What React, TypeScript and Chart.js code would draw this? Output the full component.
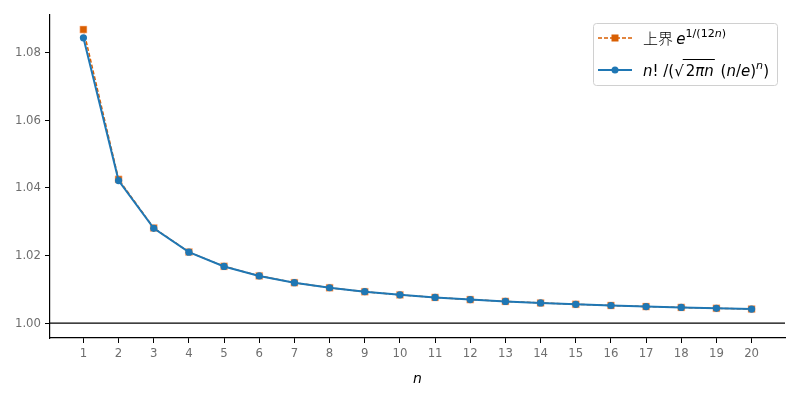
import { useEffect, useRef } from "react";
import { Chart, registerables, type Plugin } from "chart.js";

Chart.register(...registerables);

const N_VALUES = [1, 2, 3, 4, 5, 6, 7, 8, 9, 10, 11, 12, 13, 14, 15, 16, 17, 18, 19, 20];
// upper bound e^(1/(12n))
const UPPER = [
  1.08690, 1.04255, 1.02817, 1.02105, 1.01681, 1.01399, 1.01198, 1.01047, 1.00930, 1.00837,
  1.00760, 1.00697, 1.00643, 1.00597, 1.00557, 1.00522, 1.00491, 1.00464, 1.00439, 1.00417,
];
// n! / (sqrt(2πn) (n/e)^n)
const RATIO = [
  1.08444, 1.04220, 1.02806, 1.02101, 1.01678, 1.01397, 1.01197, 1.01047, 1.00930, 1.00837,
  1.00760, 1.00697, 1.00643, 1.00597, 1.00557, 1.00522, 1.00491, 1.00464, 1.00439, 1.00417,
];
const Y_TICKS = [1.0, 1.02, 1.04, 1.06, 1.08];

const ORANGE = "#d95f02";
const BLUE = "#1f77b4";
const TICK_FONT = "'DejaVu Sans Condensed', 'DejaVu Sans', sans-serif";
const CJK_FONT = "'Noto Sans CJK JP', sans-serif";
const MATH_FONT = "'DejaVu Sans', sans-serif";

type Seg = { t: string; it?: boolean; sup?: boolean; cjk?: boolean };

function drawSegs(ctx: CanvasRenderingContext2D, segs: Seg[], x: number, y: number, size: number) {
  let cx = x;
  for (const s of segs) {
    const sz = s.sup ? size * 0.74 : size;
    const fam = s.cjk ? CJK_FONT : MATH_FONT;
    ctx.font = `${s.it ? "italic " : ""}${s.cjk ? "300 " : ""}${sz}px ${fam}`;
    ctx.fillText(s.t, cx, s.sup ? y - size * 0.5 : y);
    cx += ctx.measureText(s.t).width;
  }
  return cx;
}

// y = 1 reference line across the axes
const refLine: Plugin<"line"> = {
  id: "refLine",
  beforeDatasetsDraw(chart) {
    const { ctx, chartArea, scales } = chart;
    const y = scales.y.getPixelForValue(1);
    ctx.save();
    ctx.strokeStyle = "#000";
    ctx.lineWidth = 1.2;
    ctx.beginPath();
    ctx.moveTo(chartArea.left, y);
    ctx.lineTo(chartArea.right, y);
    ctx.stroke();
    ctx.restore();
  },
};

// legend with math-style labels
const mathLegend: Plugin<"line"> = {
  id: "mathLegend",
  afterDraw(chart) {
    const { ctx, chartArea } = chart;
    const w = 184, h = 62;
    const bx = chartArea.right - 8 - w;
    const by = chartArea.top + 8;
    ctx.save();
    ctx.fillStyle = "rgba(255,255,255,0.85)";
    ctx.strokeStyle = "#d0d0d0";
    ctx.lineWidth = 1;
    ctx.beginPath();
    ctx.roundRect(bx + 0.5, by + 0.5, w, h, 3);
    ctx.fill();
    ctx.stroke();

    const lx0 = bx + 5, lx1 = bx + 39, mx = bx + 22;
    const r1 = by + 15, r2 = by + 47;

    ctx.strokeStyle = ORANGE;
    ctx.lineWidth = 1.5;
    ctx.setLineDash([4, 2]);
    ctx.beginPath();
    ctx.moveTo(lx0, r1);
    ctx.lineTo(lx1, r1);
    ctx.stroke();
    ctx.setLineDash([]);
    ctx.fillStyle = ORANGE;
    ctx.fillRect(mx - 3.5, r1 - 3.5, 7, 7);

    ctx.strokeStyle = BLUE;
    ctx.lineWidth = 2;
    ctx.beginPath();
    ctx.moveTo(lx0, r2);
    ctx.lineTo(lx1, r2);
    ctx.stroke();
    ctx.fillStyle = BLUE;
    ctx.beginPath();
    ctx.arc(mx, r2, 3.5, 0, Math.PI * 2);
    ctx.fill();

    ctx.fillStyle = "#000";
    ctx.textBaseline = "alphabetic";
    const tx = bx + 50;
    drawSegs(ctx, [
      { t: "上界 ", cjk: true }, { t: "e", it: true },
      { t: "1/(12", sup: true }, { t: "n", sup: true, it: true }, { t: ")", sup: true },
    ], tx, r1 + 6, 15);

    let x = drawSegs(ctx, [{ t: "n", it: true }, { t: "! /(√" }], tx, r2 + 6, 15);
    x += 2;
    const ox = x;
    x = drawSegs(ctx, [{ t: "2" }, { t: "πn", it: true }], x, r2 + 6, 15);
    ctx.strokeStyle = "#000";
    ctx.lineWidth = 1;
    ctx.beginPath();
    ctx.moveTo(ox - 3, r2 - 10.5);
    ctx.lineTo(x + 1, r2 - 10.5);
    ctx.stroke();
    drawSegs(ctx, [
      { t: " (" }, { t: "n", it: true }, { t: "/" }, { t: "e", it: true }, { t: ")" },
      { t: "n", it: true, sup: true }, { t: ")" },
    ], x + 2, r2 + 6, 15);
    ctx.restore();
  },
};

export default function App() {
  const canvasRef = useRef<HTMLCanvasElement>(null);

  useEffect(() => {
    document.body.style.margin = "0";
    if (!canvasRef.current) return;
    const tickStyle = { color: "#6e6e6e", font: { family: TICK_FONT, size: 13, weight: 300 as const } };
    const chart = new Chart(canvasRef.current, {
      type: "line",
      data: {
        datasets: [
          {
            label: "上界",
            data: N_VALUES.map((n, i) => ({ x: n, y: UPPER[i] })),
            order: 1,
            borderColor: ORANGE,
            backgroundColor: ORANGE,
            borderWidth: 1.5,
            borderDash: [4, 2],
            pointStyle: "rect",
            pointRadius: 5,
            pointBorderColor: "rgba(255,200,170,0.9)",
            pointBorderWidth: 0.6,
          },
          {
            label: "ratio",
            data: N_VALUES.map((n, i) => ({ x: n, y: RATIO[i] })),
            order: 0,
            borderColor: BLUE,
            backgroundColor: BLUE,
            borderWidth: 2,
            pointStyle: "circle",
            pointRadius: 3.6,
            pointBorderWidth: 0,
          },
        ],
      },
      options: {
        animation: false,
        responsive: false,
        layout: { padding: { top: 15, right: 15, left: 0, bottom: 12 } },
        plugins: { legend: { display: false }, tooltip: { enabled: false } },
        scales: {
          x: {
            type: "linear",
            min: 0.05,
            max: 20.95,
            afterBuildTicks: (axis) => { axis.ticks = N_VALUES.map((v) => ({ value: v })); },
            afterFit: (axis) => { axis.height = 50; },
            grid: { drawOnChartArea: false, color: "#000", tickLength: 5 },
            border: { color: "#000", width: 1.2 },
            ticks: { ...tickStyle, padding: 3, callback: (v) => String(v) },
            title: {
              display: true,
              text: "n",
              color: "#000",
              font: { family: MATH_FONT, size: 14, style: "italic" },
              padding: { top: 2, bottom: 0 },
            },
          },
          y: {
            type: "linear",
            min: 0.9956,
            max: 1.0912,
            afterBuildTicks: (axis) => { axis.ticks = Y_TICKS.map((v) => ({ value: v })); },
            afterFit: (axis) => { axis.width = 50; },
            grid: { drawOnChartArea: false, color: "#000", tickLength: 5 },
            border: { color: "#000", width: 1.2 },
            ticks: { ...tickStyle, padding: 4, callback: (v) => Number(v).toFixed(2) },
          },
        },
      },
      plugins: [refLine, mathLegend],
    });
    return () => chart.destroy();
  }, []);

  return (
    <div style={{ position: "absolute", left: 0, top: 0, width: 800, height: 400, background: "#fff" }}>
      <canvas ref={canvasRef} width={800} height={400} style={{ width: 800, height: 400 }} />
    </div>
  );
}
